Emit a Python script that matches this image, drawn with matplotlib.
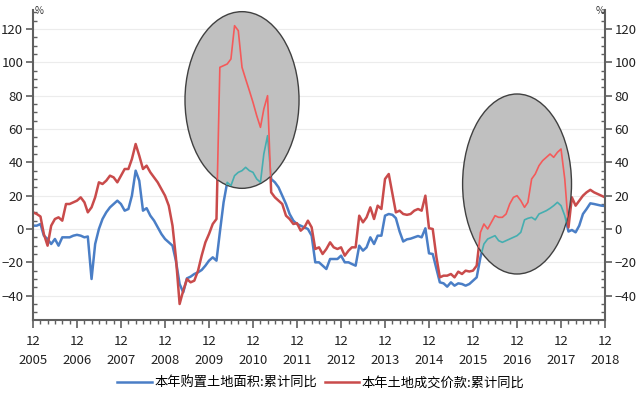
import numpy as np
import pandas as pd
import matplotlib
matplotlib.use('Agg')
import matplotlib.pyplot as plt
from matplotlib.patches import Ellipse
from matplotlib.ticker import MultipleLocator

plt.rcParams['font.family'] = ['Noto Sans CJK SC', 'DejaVu Sans']

# monthly, Dec 2005 .. Dec 2018
months = pd.date_range('2005-12-01', '2018-12-01', freq='MS')

# 本年购置土地面积:累计同比 (%)
area_yoy = [
    2, 2, 3, -4, -6, -9, -6, -10, -5, -5, -5, -4,
    -3.5, -4, -5, -4.5, -30, -9, 0, 6, 10, 13, 15, 17,
    15, 11, 12, 20, 35, 29, 11, 12.5, 8, 5, 1, -3,
    -6, -8, -10, -19, -33, -38, -29.6, -28.6, -27, -26, -24.6, -22,
    -19, -17, -19, -2, 16, 28, 26, 32, 34, 35, 37, 35,
    34, 30, 28, 45, 56, 30, 28, 25, 20, 15, 9, 5,
    3, 2, 1, 0, -4, -20, -20, -22, -24, -18, -18, -18,
    -16, -20, -20, -21, -22, -10, -13, -11, -5, -9, -4, -4,
    8, 9, 8.5, 6.5, -1.5, -7.5, -6.2, -5.8, -5, -4.2, -5, 0.4,
    -14.6, -15, -24, -32, -32.6, -34.6, -32, -34, -32.6, -33, -34, -33,
    -31, -29, -17, -9, -6, -5, -4, -7, -8, -7, -6, -5,
    -4, -2, 5.5, 6.4, 7, 5.5, 9, 10, 11, 12.4, 14, 16,
    14, 8, -1.5, -0.6, -2, 2, 9, 12, 15.4, 15, 14.5, 14,
    13.8,
]

# 本年土地成交价款:累计同比 (%)
price_yoy = [
    10, 9, 7.5, -3, -10, 2, 6, 7, 5, 15, 15, 16,
    17, 19, 16, 10, 13, 19, 28, 27, 29, 32, 31, 28,
    32, 36, 36, 42, 51, 44, 36, 38, 34, 31, 28, 24,
    20, 14, 2, -17, -45, -37, -30, -32, -31, -25, -16, -8,
    -3, 3, 6, 97, 98, 99, 102, 122, 119, 97, 90, 83,
    76, 68, 61, 72, 80, 22, 19, 17, 15, 8, 6, 3,
    3.5, -1, 1, 5, 1, -12, -11, -15, -12, -8, -11, -12,
    -11, -16, -13, -11, -11, 8, 4, 7, 13, 6, 14, 12,
    30, 33, 21, 10, 11, 9, 8.5, 9, 11, 12, 11, 20,
    0.5, 0, -17, -29, -28, -28, -27, -29, -25.6, -27, -25, -25.5,
    -25, -22, -2, 3, 0, 4, 8, 7, 7, 9, 15, 19,
    20, 17, 13, 16, 30, 33, 38, 41, 43, 45, 43, 46,
    48, 30, 1, 19, 14, 17, 20, 22, 23.5, 22, 21, 20,
    19,
]

years = list(range(2005, 2019))
tick_dates = pd.to_datetime([f'{y}-12-01' for y in years])
tick_labels = [f'12\n{y}' for y in years]

blue = '#4a7ec6'
red = '#c94b4b'

fig = plt.figure(figsize=(6.42, 3.97), dpi=100)
ax = fig.add_axes([33 / 642, 1 - 320 / 397, (605 - 33) / 642, 310 / 397])

ax.plot(months, area_yoy, color=blue, lw=1.8, zorder=2, label='本年购置土地面积:累计同比')
ax.plot(months, price_yoy, color=red, lw=1.8, zorder=2, label='本年土地成交价款:累计同比')

# grey ellipses with highlighted lines inside them
mnum = lambda d: matplotlib.dates.date2num(pd.Timestamp(d))
for cx, cy, w, h in [('2010-09-01', 77.4, 31.1, 106), ('2016-12-01', 27.0, 29.7, 108)]:
    c = mnum(cx)
    e = Ellipse((c, cy), w * 30.44, h, facecolor='#c0c0c0', edgecolor='#404040', lw=1.0, zorder=3)
    ax.add_patch(e)
    l1, = ax.plot(months, area_yoy, color='#45aeb0', lw=1.2, zorder=4)
    l2, = ax.plot(months, price_yoy, color='#f45a5a', lw=1.2, zorder=4)
    l1.set_clip_path(e)
    l2.set_clip_path(e)

ax.set_ylim(-54.6, 131.4)
ax.set_xlim(tick_dates[0], tick_dates[-1])
ax.yaxis.set_major_locator(MultipleLocator(20))
ax.yaxis.set_minor_locator(MultipleLocator(5))
ax.set_yticks(np.arange(-40, 121, 20))
ax.set_xticks(tick_dates)
ax.set_xticklabels(tick_labels, linespacing=1.6)
ax.set_xticks(pd.date_range('2005-12-01', '2018-12-01', freq='2MS'), minor=True)

ax.grid(axis='y', color='#ececec', lw=0.8, zorder=0)
ax.tick_params(axis='y', which='major', direction='out', length=5, width=1.2,
               color='#606060', labelsize=9.5, labelcolor='#222222',
               left=True, right=True, labelleft=True, labelright=True, pad=2)
ax.tick_params(axis='y', which='minor', direction='in', length=3, width=1.0,
               color='#606060', left=True, right=True)
ax.tick_params(axis='x', which='major', direction='out', length=6, width=1.2,
               color='#606060', labelsize=9.5, labelcolor='#222222', pad=5)
ax.tick_params(axis='x', which='minor', direction='out', length=3, width=1.0, color='#606060')

ax.spines['top'].set_visible(False)
for s in ['left', 'right', 'bottom']:
    ax.spines[s].set_color('#606060')
    ax.spines[s].set_linewidth(1.5)

fig.text(35 / 642, 1 - 11 / 397, '%', fontsize=7, color='#333333', va='center')
fig.text(596 / 642, 1 - 11 / 397, '%', fontsize=7, color='#333333', va='center')

handles = ax.get_lines()[:2]
fig.legend(handles, [h.get_label() for h in handles], loc='center', bbox_to_anchor=(0.5, 1 - 383 / 397),
           ncol=2, frameon=False, fontsize=9.5, handlelength=2.6, handletextpad=0.2, columnspacing=0.6)

fig.savefig('out.png', dpi=100)
